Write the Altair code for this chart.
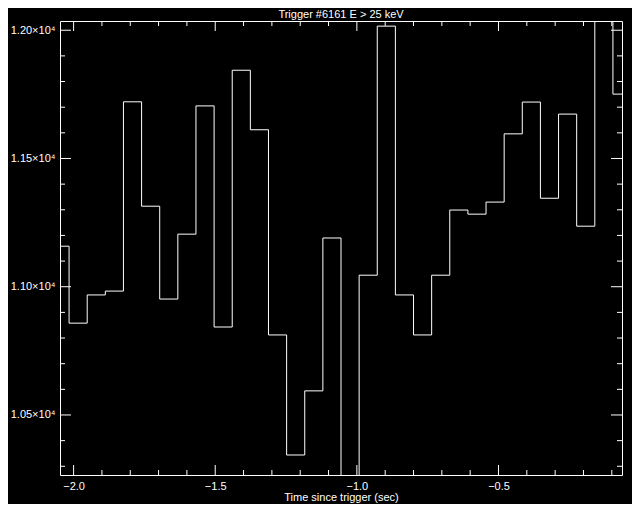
import altair as alt
import pandas as pd
import numpy as np

# bin centres (s since trigger) and count rates
times = [-2.048, -1.984, -1.920, -1.856, -1.792, -1.728, -1.664, -1.600,
         -1.536, -1.472, -1.408, -1.344, -1.280, -1.216, -1.152, -1.088,
         -1.024, -0.960, -0.896, -0.832, -0.768, -0.704, -0.640, -0.576,
         -0.512, -0.448, -0.384, -0.320, -0.256, -0.192, -0.128, -0.064]
rates = [11158, 10858, 10968, 10983, 11721, 11314, 10952, 11205,
         11705, 10843, 11844, 11612, 10812, 10344, 10594, 11190,
         10180, 11045, 12016, 10968, 10812, 11045, 11299, 11283,
         11330, 11596, 11720, 11345, 11673, 11236, 12150, 11751]

x_major = [-2.0, -1.5, -1.0, -0.5]
x_minor = [-1.9, -1.8, -1.7, -1.6, -1.4, -1.3, -1.2, -1.1, -0.9, -0.8,
           -0.7, -0.6, -0.4, -0.3, -0.2, -0.1]
y_major = [10500, 11000, 11500, 12000]
y_minor = [10300, 10400, 10600, 10700, 10800, 10900, 11100, 11200, 11300,
           11400, 11600, 11700, 11800, 11900]
title_text = ["Trigger #6161 E > 25 keV"]

X_DOMAIN = [-2.048, -0.064]
Y_DOMAIN = [10266, 12036]
W, H = 562, 454
FONT = "Liberation Sans"

df = pd.DataFrame({"t": times, "rate": rates})
xs = alt.Scale(domain=X_DOMAIN, nice=False, zero=False)
ys = alt.Scale(domain=Y_DOMAIN, nice=False, zero=False)

line = alt.Chart(df).mark_line(
    interpolate="step", color="white", strokeWidth=1, clip=True
).encode(
    x=alt.X("t:Q", scale=xs,
            axis=alt.Axis(values=x_major, format=".1f", ticks=False, domain=False,
                          grid=False, labelColor="white", labelFont=FONT,
                          labelFontSize=11, labelPadding=5,
                          title="Time since trigger (sec)", titleColor="white",
                          titleFont=FONT, titleFontSize=11, titleFontWeight="normal",
                          titleY=25, titleBaseline="alphabetic")),
    y=alt.Y("rate:Q", scale=ys,
            axis=alt.Axis(values=y_major, ticks=False, domain=False, grid=False,
                          labelExpr="format(datum.value/10000, '.2f') + '×10⁴'",
                          labelColor="white", labelFont=FONT, labelFontSize=11,
                          labelPadding=5, title=None)),
)

def xticks(vals, length):
    d = pd.DataFrame({"v": vals})
    bot = alt.Chart(d).mark_rule(color="white", strokeWidth=1).encode(
        x=alt.X("v:Q", scale=xs), y=alt.value(H), y2=alt.value(H - length))
    top = alt.Chart(d).mark_rule(color="white", strokeWidth=1).encode(
        x=alt.X("v:Q", scale=xs), y=alt.value(0), y2=alt.value(length))
    return [bot, top]

def yticks(vals, length):
    d = pd.DataFrame({"v": vals})
    left = alt.Chart(d).mark_rule(color="white", strokeWidth=1).encode(
        y=alt.Y("v:Q", scale=ys), x=alt.value(0), x2=alt.value(length))
    right = alt.Chart(d).mark_rule(color="white", strokeWidth=1).encode(
        y=alt.Y("v:Q", scale=ys), x=alt.value(W), x2=alt.value(W - length))
    return [left, right]

title = alt.Chart(pd.DataFrame({"txt": title_text})).mark_text(
    color="white", font=FONT, fontSize=11, baseline="alphabetic", align="center"
).encode(text="txt:N", x=alt.value(W / 2), y=alt.value(-3))

layers = ([line] + xticks(x_major, 10) + xticks(x_minor, 5)
          + yticks(y_major, 11) + yticks(y_minor, 5) + [title])

chart = alt.layer(*layers).properties(
    width=W, height=H,
    background="black",
    padding={"left": 52, "top": 13, "right": 10, "bottom": 29},
    autosize=alt.AutoSizeParams(type="none"),
).configure_view(stroke="white", strokeWidth=1)

chart.save("out.html", embed_options={"renderer": "svg", "actions": False})
